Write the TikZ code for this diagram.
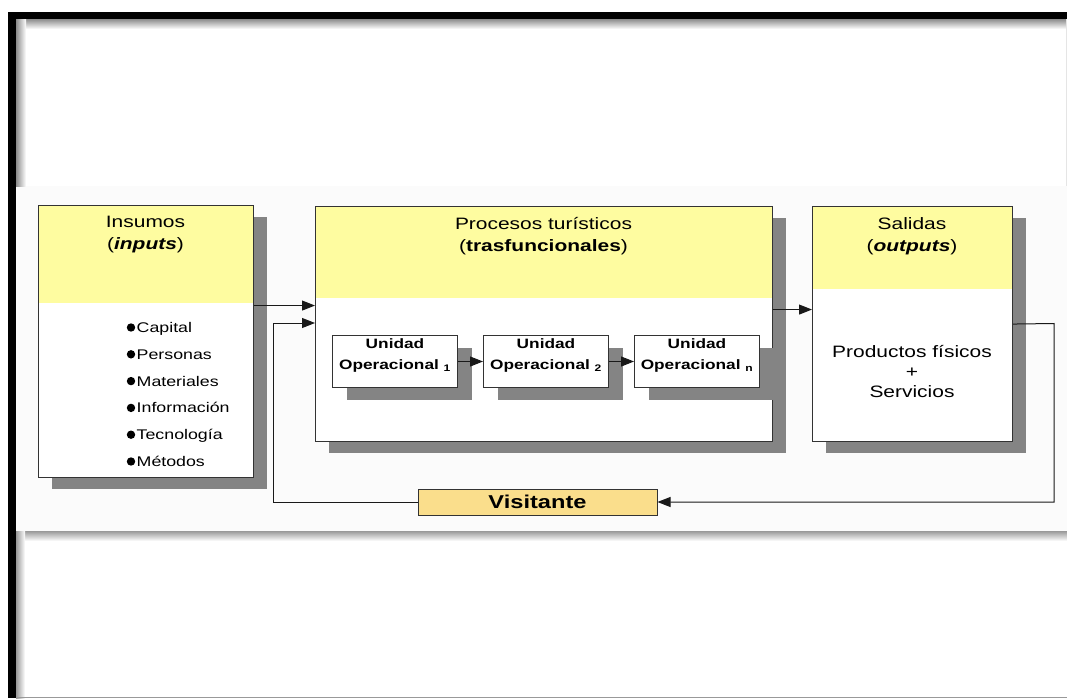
\documentclass[tikz,border=0pt]{standalone}
\usepackage{fontspec}
\setmainfont{Liberation Sans}[FakeStretch=1.27]
\usetikzlibrary{arrows.meta,shadows}
\definecolor{hdryellow}{RGB}{254,252,160}
\definecolor{visitorange}{RGB}{250,222,140}
\definecolor{shadowgray}{RGB}{132,132,132}

\begin{document}
\begin{tikzpicture}[x=1pt,y=-1pt,
	stage/.style={draw=black!80,line width=1.1pt,fill=white,anchor=north west,inner sep=0pt,
		drop shadow={shadow xshift=13pt,shadow yshift=-11pt,fill=shadowgray,opacity=1},
		path picture={\fill[hdryellow] (path picture bounding box.north west) rectangle ([yshift=-#1]path picture bounding box.north east);}},
	unitbox/.style={draw=black!80,line width=1pt,fill=white,anchor=north west,minimum width=125pt,minimum height=52pt,
		drop shadow={shadow xshift=14pt,shadow yshift=-12pt,fill=shadowgray,opacity=1}},
	visitbox/.style={draw=black!80,line width=1pt,fill=visitorange,minimum width=239pt,minimum height=26pt,inner sep=0pt,
		font=\bfseries\fontsize{18.6}{22}\selectfont},
	title/.style={align=center,inner sep=0pt,font=\fontsize{16.5}{22}\selectfont},
	unittext/.style={align=center,inner sep=0pt,font=\bfseries\fontsize{13.6}{21}\selectfont},
	item/.style={anchor=west,inner sep=0pt,text height=10pt,text depth=3pt,font=\fontsize{14}{16}\selectfont},
	arr/.style={-{Triangle[length=13pt,width=10pt]},line width=1pt,black!90}]
	\fill[white] (0,0) rectangle (1067,698);
	\useasboundingbox (0,0) rectangle (1067,698);
	\fill[black!1.5] (16,186) rectangle (1067,531);
	\shade[top color=black!45,bottom color=white] (16,19) rectangle (1067,29);
	\shade[left color=black!45,right color=white] (16,19) rectangle (26,186);
	\shade[top color=black!40,bottom color=white] (16,531) rectangle (1067,541);
	\shade[left color=black!40,right color=white] (16,531) rectangle (25,698);
	\draw[black!40] (16,697.5) -- (1067,697.5);
	\draw[black!10] (1066,19) -- (1066,186);
	\fill[black] (8,12) rectangle (1067,19);
	\fill[black] (8,12) rectangle (16,698);

	\node[stage=97pt,minimum width=215pt,minimum height=272pt] (insumos) at (38,205) {};
	\node[stage=91pt,minimum width=457pt,minimum height=235pt] (procesos) at (315,206) {};
	\node[stage=82pt,minimum width=200pt,minimum height=235pt] (salidas) at (812,206) {};
	\node[title] (insumos-t) at (145.5,234.5) {Insumos\\(\textbf{\textit{inputs}})};
	\node[title] (procesos-t) at (543.5,236) {Procesos turísticos\\(\textbf{trasfuncionales})};
	\node[title] (salidas-t) at (912,236.5) {Salidas\\(\textbf{\textit{outputs}})};
	\node[title,font=\fontsize{16.5}{20}\selectfont] (salidas-b) at (912,372) {Productos físicos\\+\\Servicios};
	\foreach \t [count=\i] in {Capital,Personas,Materiales,Información,Tecnología,Métodos} {
		\fill (131,{327.5+26.8*(\i-1)}) circle (4.2pt);
		\node[item] (item\i) at (136.5,{329+26.8*(\i-1)}) {\t};
	}
	\foreach \x/\s [count=\i] in {332/1,483/2,634/n} {
		\node[unitbox] (unidad\i) at (\x,335) {};
		\node[unittext] (unidad\i-t) at ([yshift=6pt]unidad\i.center) {Unidad\\Operacional \textsubscript{\s}};
	}
	\node[visitbox] (visitante) at (537.5,502) {Visitante};

	\coordinate (retorno) at (273,323);
	\coordinate (salida) at (1054,323.5);
	\draw[arr] (unidad1) -- (unidad2);
	\draw[arr] (unidad2) -- (unidad3);
	\draw[arr] ([yshift=36pt]insumos.east) -- ([yshift=36pt]insumos.east -| procesos.west);
	\draw[arr] (visitante.west) -| (retorno) -- (retorno -| procesos.west);
	\draw[arr] ([yshift=14.5pt]procesos.east) -- ([yshift=14.5pt]procesos.east -| salidas.west);
	\draw[arr] (salidas.east) -- (salida) |- (visitante.east);
\end{tikzpicture}
\end{document}
